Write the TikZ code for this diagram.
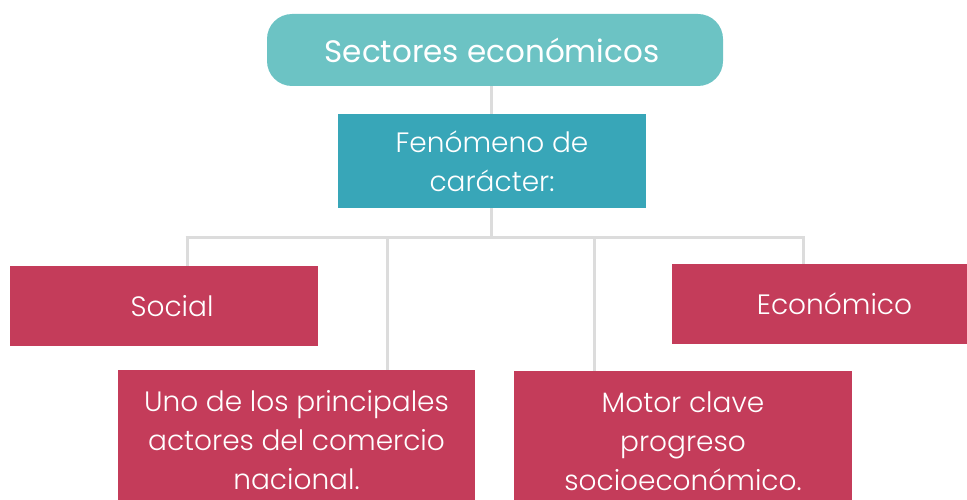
\documentclass[tikz,border=0pt]{standalone}
\usepackage{fontspec}
\setmainfont{Poppins}[UprightFont=* Light]
\newfontfamily\titlefont{Poppins}
\definecolor{tealA}{HTML}{6CC3C4}
\definecolor{tealB}{HTML}{38A6B8}
\definecolor{redA}{HTML}{C43C5A}
\definecolor{lineG}{HTML}{DCDCDC}
\begin{document}
\begin{tikzpicture}[x=1pt,y=-1pt,
  box/.style={fill=redA,text=white,inner sep=0pt,font=\fontsize{28}{39}\selectfont,align=center},
  conn/.style={draw=lineG,line width=3pt}]
\useasboundingbox (0,0) rectangle (967,500);
\clip (0,0) rectangle (967,500);
\coordinate (bus) at (491,237);
\coordinate (b1) at (187,237);
\coordinate (b2) at (387,237);
\coordinate (b3) at (594,237);
\coordinate (b4) at (803,237);
\node[fill=tealA,rounded corners=25pt,minimum width=456pt,minimum height=72pt,inner sep=0pt,text=white,font=\titlefont\fontsize{31}{38}\selectfont] (top) at (495,50) {\hspace*{-6pt}Sectores económicos};
\node[fill=tealB,minimum width=308pt,minimum height=94pt,inner sep=0pt,text=white,font=\fontsize{28}{39}\selectfont,align=center] (fen) at (492,161) {Fenómeno de\\carácter:};
\node[box,minimum width=308pt,minimum height=80pt] (social) at (164,306) {\hspace*{16pt}Social};
\node[box,minimum width=295pt,minimum height=80pt] (eco) at (819.5,304) {\hspace*{30pt}Económico};
\node[box,minimum width=357pt,minimum height=140pt] (uno) at (296.5,440) {Uno de los principales\\actores del comercio\\nacional.};
\node[box,minimum width=338pt,minimum height=140pt] (motor) at (683,441) {Motor clave\\progreso\\socioeconómico.};
\draw[conn] (fen.north -| bus) -- (top.south -| bus);
\draw[conn] (fen.south -| bus) -- (bus);
\draw[conn] ([xshift=-1.5pt]b1) -- ([xshift=1.5pt]b4);
\draw[conn] (b1) -- (b1 |- social.north);
\draw[conn] (b2) -- (b2 |- uno.north);
\draw[conn] (b3) -- (b3 |- motor.north);
\draw[conn] (b4) -- (b4 |- eco.north);
\end{tikzpicture}
\end{document}
